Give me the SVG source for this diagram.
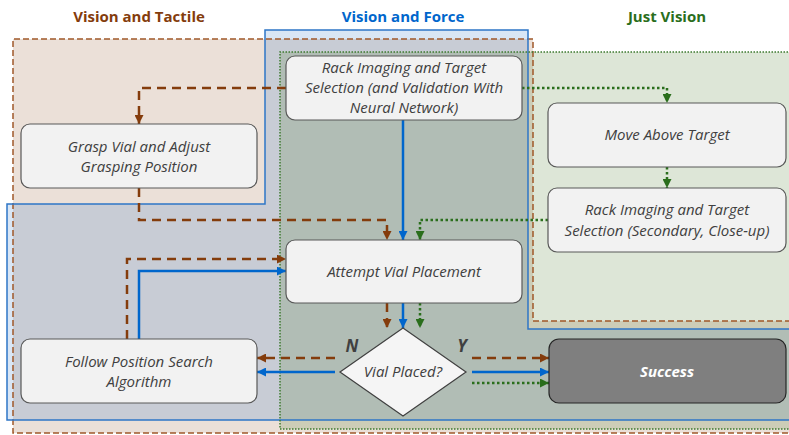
<svg xmlns="http://www.w3.org/2000/svg" width="789" height="435" viewBox="0 0 789 435">
<defs>
<style>
.title{font-family:"Open Sans","Liberation Sans",sans-serif;font-size:15px;font-weight:bold;text-anchor:middle}
.node rect,.node polygon{fill:#f2f2f2;stroke:#595959;stroke-width:1.2}
.lbl{font-family:"Open Sans","Liberation Sans",sans-serif;font-size:15px;font-style:italic;fill:#404040;text-anchor:middle}
.yn{font-family:"Open Sans","Liberation Sans",sans-serif;font-size:17px;font-style:italic;font-weight:bold;fill:#404040;text-anchor:middle}
.br{fill:none;stroke:#843c0c;stroke-width:2.5;stroke-dasharray:9,6}
.bl{fill:none;stroke:#0066cc;stroke-width:2.5}
.gr{fill:none;stroke:#2a6e1c;stroke-width:2.5;stroke-dasharray:2.5,2.5}
</style>
<marker id="ab" viewBox="0 0 10 10" refX="10" refY="5" markerWidth="9" markerHeight="9" markerUnits="userSpaceOnUse" orient="auto"><path d="M0,0 L10,5 L0,10 z" fill="#843c0c"/></marker>
<marker id="au" viewBox="0 0 10 10" refX="10" refY="5" markerWidth="9" markerHeight="9" markerUnits="userSpaceOnUse" orient="auto"><path d="M0,0 L10,5 L0,10 z" fill="#0066cc"/></marker>
<marker id="ag" viewBox="0 0 10 10" refX="10" refY="5" markerWidth="9" markerHeight="9" markerUnits="userSpaceOnUse" orient="auto"><path d="M0,0 L10,5 L0,10 z" fill="#2a6e1c"/></marker>
</defs>
<rect width="789" height="435" fill="#ffffff"/>
<g id="regions">
<path d="M13,39 H533 V321 H800 V433 H13 Z" fill="#843c0c" fill-opacity="0.16"/>
<path d="M265,30 H528 V329 H800 V420 H7 V204 H265 Z" fill="#2e75c6" fill-opacity="0.18"/>
<path d="M280,52 H800 V429 H280 Z" fill="#548235" fill-opacity="0.2"/>
<path d="M800,321 H533 V39 H13 V433 H800" fill="none" stroke="#a0582a" stroke-width="1.5" stroke-dasharray="6,3"/>
<path d="M800,329 H528 V30 H265 V204 H7 V420 H800" fill="none" stroke="#2e75c6" stroke-width="1.5"/>
<path d="M800,52 H280 V429 H800" fill="none" stroke="#3d7a2f" stroke-width="1.5" stroke-dasharray="1.5,1.5"/>
</g>
<g id="titles">
<text class="title" x="139" y="22" fill="#843c0c">Vision and Tactile</text>
<text class="title" x="403" y="22" fill="#0066cc">Vision and Force</text>
<text class="title" x="667" y="22" fill="#2a6e1c">Just Vision</text>
</g>
<g id="connectors">
<path class="br" d="M286,88 H139 V124" marker-end="url(#ab)"/>
<path class="br" d="M139,188 V220 H387 V240" marker-end="url(#ab)"/>
<path class="br" d="M387,303 V328" marker-end="url(#ab)"/>
<path class="br" d="M335,358 H257" marker-end="url(#ab)"/>
<path class="br" d="M127,339 V259 H286" marker-end="url(#ab)"/>
<path class="br" d="M472,358 H549" marker-end="url(#ab)"/>
<path class="bl" d="M403,120 V240" marker-end="url(#au)"/>
<path class="bl" d="M403,303 V328" marker-end="url(#au)"/>
<path class="bl" d="M335,372 H257" marker-end="url(#au)"/>
<path class="bl" d="M139,339 V271 H286" marker-end="url(#au)"/>
<path class="bl" d="M472,372 H549" marker-end="url(#au)"/>
<path class="gr" d="M522,88 H667 V103" marker-end="url(#ag)"/>
<path class="gr" d="M667,167 V188" marker-end="url(#ag)"/>
<path class="gr" d="M548,220 H420 V240" marker-end="url(#ag)"/>
<path class="gr" d="M420,303 V328" marker-end="url(#ag)"/>
<path class="gr" d="M472,383 H549" marker-end="url(#ag)"/>
</g>
<g id="rack" class="node">
<rect x="286" y="56" width="236" height="64" rx="9"/>
<text class="lbl" x="404" y="73">Rack Imaging and Target</text>
<text class="lbl" x="404" y="93">Selection (and Validation With</text>
<text class="lbl" x="404" y="113">Neural Network)</text>
</g>
<g id="grasp" class="node">
<rect x="21" y="124" width="236" height="64" rx="9"/>
<text class="lbl" x="139" y="152">Grasp Vial and Adjust</text>
<text class="lbl" x="139" y="172">Grasping Position</text>
</g>
<g id="move" class="node">
<rect x="548" y="103" width="238" height="64" rx="9"/>
<text class="lbl" x="667" y="140">Move Above Target</text>
</g>
<g id="rack2" class="node">
<rect x="548" y="188" width="238" height="64" rx="9"/>
<text class="lbl" x="667" y="215">Rack Imaging and Target</text>
<text class="lbl" x="667" y="236">Selection (Secondary, Close-up)</text>
</g>
<g id="attempt" class="node">
<rect x="286" y="240" width="236" height="63" rx="9"/>
<text class="lbl" x="404" y="277">Attempt Vial Placement</text>
</g>
<g id="follow" class="node">
<rect x="21" y="339" width="236" height="64" rx="9"/>
<text class="lbl" x="139" y="367">Follow Position Search</text>
<text class="lbl" x="139" y="387">Algorithm</text>
</g>
<g id="decision" class="node">
<polygon points="403,328 466,372 403,416 340,372" style="fill:#f5f5f5;stroke:#404040"/>
<text class="lbl" x="403" y="377">Vial Placed?</text>
<text class="yn" x="352" y="352">N</text>
<text class="yn" x="462" y="352">Y</text>
</g>
<g id="success" class="node">
<rect x="549" y="339" width="237" height="64" rx="10" style="fill:#7f7f7f;stroke:#262626"/>
<text class="lbl" x="667" y="377" style="fill:#ffffff;font-weight:bold">Success</text>
</g>
</svg>
